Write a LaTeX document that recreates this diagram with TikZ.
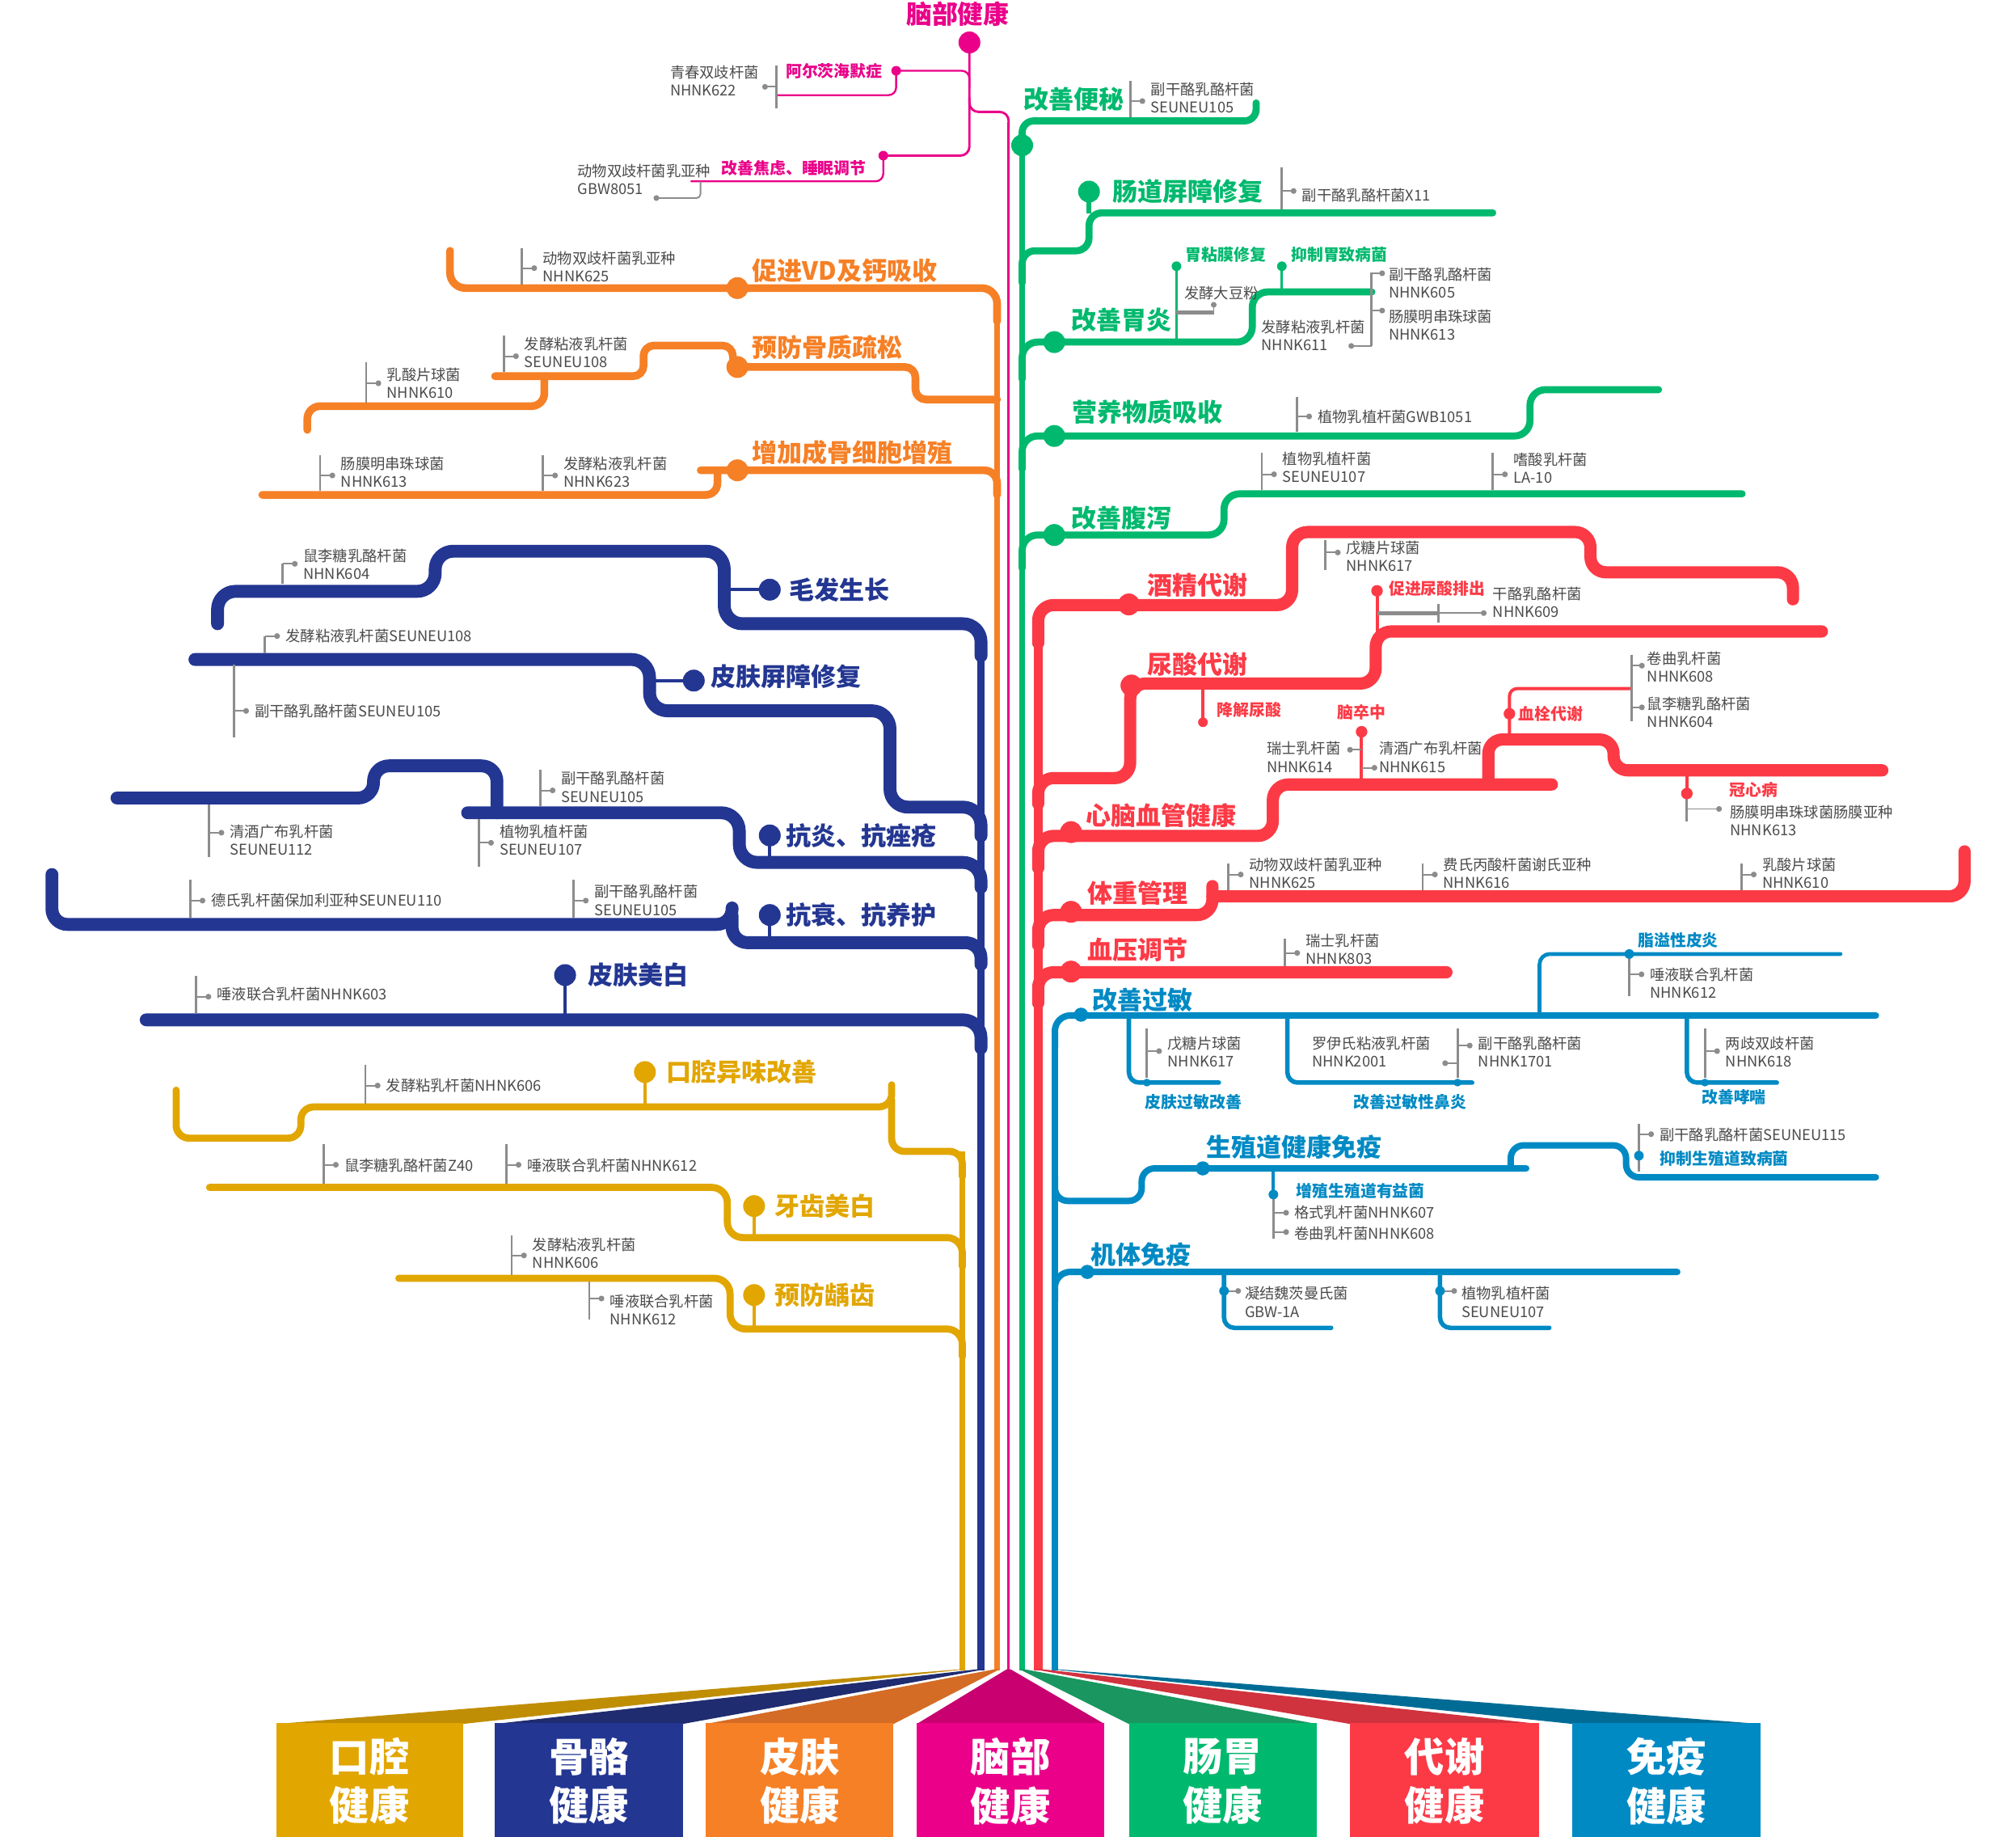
\documentclass[tikz,border=0pt]{standalone}
\usepackage{fontspec}
\newfontfamily\cjk{Noto Sans CJK SC}
\definecolor{cpink}{RGB}{234,0,137}
\definecolor{cgreen}{RGB}{0,185,110}
\definecolor{corange}{RGB}{246,128,38}
\definecolor{cnavy}{RGB}{35,54,146}
\definecolor{cyellow}{RGB}{226,166,0}
\definecolor{cred}{RGB}{252,58,70}
\definecolor{cblue}{RGB}{0,138,196}
\definecolor{cgray}{RGB}{140,140,140}
\definecolor{ctext}{RGB}{75,75,75}
\definecolor{dyellow}{RGB}{192,142,4}
\definecolor{dnavy}{RGB}{32,44,112}
\definecolor{dorange}{RGB}{212,108,38}
\definecolor{dpink}{RGB}{200,0,112}
\definecolor{dgreen}{RGB}{26,150,96}
\definecolor{dred}{RGB}{208,50,62}
\definecolor{dblue}{RGB}{0,108,150}
\tikzset{
  rail/.style={draw=#1, line cap=round, line join=round, rounded corners=10pt},
  trunk/.style={draw=#1, line cap=butt},
  bigdot/.style={circle, fill=#1, minimum size=17pt, inner sep=0pt},
  middot/.style={circle, fill=#1, minimum size=11pt, inner sep=0pt},
  smalldot/.style={circle, fill=#1, minimum size=7.5pt, inner sep=0pt},
  gdot/.style={circle, fill=cgray, minimum size=4.5pt, inner sep=0pt},
  gbar/.style={draw=cgray, line width=1.8pt},
  gline/.style={draw=cgray, line width=1.2pt},
  glabel/.style={font=\cjk\fontsize{11.5}{14}\selectfont, text=ctext, anchor=west, inner sep=0pt, align=left},
  ttl/.style={font=\cjk\bfseries\fontsize{19.5}{23}\selectfont, text=#1, anchor=west, inner sep=0pt},
  sublab/.style={font=\cjk\bfseries\fontsize{12.5}{15}\selectfont, text=#1, anchor=west, inner sep=0pt},
  boxlab/.style={font=\cjk\bfseries\fontsize{31}{38}\selectfont, text=white, align=center, inner sep=0pt},
}
% name, xbar, ytop, ybot, ydot, ytext, text
\newcommand{\gtag}[7]{%
  \draw[gbar] (#2,#3) -- (#2,#4);
  \node[gdot] (#1d) at ({#2+9.5},#5) {};
  \draw[gline] (#2,#5) -- (#1d.center);
  \node[glabel] (#1) at ({#2+16},#6) {#7};
}
\begin{document}
\begin{tikzpicture}[x=1pt,y=-1pt]
\useasboundingbox (0,0) rectangle (1568,1428);
\fill[white] (0,0) rectangle (1568,1428);

% ================= trunks =================
\draw[trunk=cyellow, line width=4.5pt] (748.5,1299) -- (748.5,895);
\draw[trunk=cnavy, line width=6pt] (763,1299) -- (763,500);
\draw[trunk=corange, line width=4.5pt] (775.5,1299) -- (775.5,240);
\draw[trunk=cpink, line width=1.8pt] (784.5,1299) -- (784.5,95);
\draw[trunk=cgreen, line width=4.5pt] (795,1299) -- (795,113);
\draw[trunk=cred, line width=7pt] (807.5,1299) -- (807.5,490);
\draw[trunk=cblue, line width=4.5pt] (820.5,1299) -- (820.5,800);

% ================= pink (brain) =================
\node[ttl=cpink, anchor=center, font=\cjk\bfseries\fontsize{20}{24}\selectfont] (tbrain) at (745,11) {脑部健康};
\draw[rail=cpink, line width=1.8pt, rounded corners=7pt] (754,33) -- (754,121) -- (687,121);
\draw[rail=cpink, line width=1.8pt, rounded corners=7pt] (754,76) -- (754,87) -- (784.5,87) -- (784.5,100);
\node[bigdot=cpink] (dbrain) at (754,33) {};
\node[smalldot=cpink] (dalz) at (697,55) {};
\draw[rail=cpink, line width=1.5pt, rounded corners=6pt] (697,55) -- (754,55) -- (754,68);
\draw[rail=cpink, line width=1.5pt, rounded corners=6pt] (697,55) -- (697,74) -- (604,74);
\node[sublab=cpink] (lalz) at (611,55.5) {阿尔茨海默症};
\draw[gbar] (604,51) -- (604,84);
\node[gdot] (galzd) at (595,67.5) {};
\draw[gline] (604,67.5) -- (galzd.center);
\node[glabel] (galz) at (521,62.7) {青春双歧杆菌\\NHNK622};
\node[smalldot=cpink] (danx) at (687,121) {};
\draw[rail=cpink, line width=1.5pt, rounded corners=6pt] (687,121) -- (687,141) -- (537.6,141);
\node[sublab=cpink] (lanx) at (561,131) {改善焦虑、睡眠调节};
\draw[gline, rounded corners=3pt] (544.8,141) -- (544.8,154) -- (511,154);
\node[gdot] (ganxd) at (510.5,154) {};
\node[glabel] (ganx) at (449,139.5) {动物双歧杆菌乳亚种\\GBW8051};

% ================= green (gut) =================
\draw[rail=cgreen, line width=5.5pt, rounded corners=9pt] (795,113) -- (795,94) -- (977,94) -- (977,80);
\node[bigdot=cgreen] (dconst) at (795,113) {};
\node[ttl=cgreen] (tconst) at (796,77) {改善便秘};
\gtag{gconst}{879}{63}{91}{78.6}{76}{副干酪乳酪杆菌\\SEUNEU105}

\draw[rail=cgreen, line width=5.5pt] (795,220) -- (795,195) -- (847,195) -- (847,165.5) -- (1161,165.5);
\node[bigdot=cgreen] (dbarr) at (847,149) {};
\draw[cgreen, line width=3.5pt] (dbarr.center) -- (847,166);
\node[ttl=cgreen] (tbarr) at (865,149) {肠道屏障修复};
\gtag{gbarr}{996.6}{130}{163}{148.5}{152}{副干酪乳酪杆菌X11}

\draw[rail=cgreen, line width=5.5pt, rounded corners=12pt] (795,295) -- (795,266) -- (974,266) -- (974,227) -- (1067,227);
\node[bigdot=cgreen] (dgast) at (820,266) {};
\node[ttl=cgreen] (tgast) at (833,249) {改善胃炎};
\draw[cgreen, line width=2pt] (915,207) -- (915,266);
\node[smalldot=cgreen] (dmuc) at (915,207) {};
\node[sublab=cgreen] (lmuc) at (922,198) {胃粘膜修复};
\draw[cgreen, line width=2pt] (997,207) -- (997,227);
\node[smalldot=cgreen] (dpath) at (997,207) {};
\node[sublab=cgreen] (lpath) at (1004,198) {抑制胃致病菌};
\node[glabel] (gsoy) at (921,228) {发酵大豆粉};
\draw[gline, line width=2.8pt] (915,243) -- (944,243);
\draw[gline] (944,237) -- (944,243);
\node[gdot] (gsoyd) at (944,237) {};
\draw[gbar] (1066.6,211.7) -- (1066.6,269);
\node[gdot] (g605d) at (1075,212.5) {};
\draw[gline] (1066.6,212.5) -- (g605d.center);
\node[glabel] (g605) at (1080,220) {副干酪乳酪杆菌\\NHNK605};
\node[gdot] (g613d) at (1075,241.5) {};
\draw[gline] (1066.6,241.5) -- (g613d.center);
\node[glabel] (g613) at (1080,252.5) {肠膜明串珠球菌\\NHNK613};
\node[gdot] (g611d) at (1051,269) {};
\draw[gline] (1066.6,269) -- (g611d.center);
\node[glabel] (g611) at (981,261) {发酵粘液乳杆菌\\NHNK611};

\draw[rail=cgreen, line width=5.5pt, rounded corners=12pt] (795,365) -- (795,339) -- (1190,339) -- (1190,303) -- (1290,303);
\node[bigdot=cgreen] (dnut) at (820,339) {};
\node[ttl=cgreen] (tnut) at (833.5,320.6) {营养物质吸收};
\gtag{gnut}{1008.7}{309}{336}{323.8}{324.4}{植物乳植杆菌GWB1051}

\draw[rail=cgreen, line width=5.5pt, rounded corners=12pt] (795,442) -- (795,416) -- (952,416) -- (952,384) -- (1355,384);
\node[bigdot=cgreen] (ddia) at (820,416) {};
\node[ttl=cgreen] (tdia) at (833,403) {改善腹泻};
\gtag{gdia1}{981.4}{352}{381}{368.8}{363.5}{植物乳植杆菌\\SEUNEU107}
\gtag{gdia2}{1161}{352}{381}{368.8}{364}{嗜酸乳杆菌\\LA-10}

% ================= red (metabolism) =================
\draw[rail=cred, line width=9.5pt, rounded corners=12pt] (807.5,500) -- (807.5,470.5) -- (1005,470.5) -- (1005,413.7) -- (1237,413.7) -- (1237,445) -- (1394.5,445) -- (1394.5,466);
\node[bigdot=cred] (dalc) at (878,470) {};
\node[ttl=cred] (talc) at (892,454.7) {酒精代谢};
\gtag{galc}{1031}{420}{443}{429.6}{432.3}{戊糖片球菌\\NHNK617}

\draw[rail=cred, line width=9.5pt, rounded corners=12pt] (1417,491) -- (1070,491) -- (1070,531.5) -- (879,531.5) -- (879,605) -- (807.5,605) -- (807.5,625);
\node[bigdot=cred] (duric) at (880,533) {};
\node[ttl=cred] (turic) at (892,516.6) {尿酸代谢};
\draw[cred, line width=2.5pt] (935.6,531) -- (935.6,561.6);
\node[smalldot=cred] (ddeg) at (935.6,561.6) {};
\node[sublab=cred] (ldeg) at (946.5,552) {降解尿酸};
\draw[cred, line width=2.5pt] (1071,459.4) -- (1071,491);
\node[smalldot=cred, minimum size=9pt] (dexc) at (1071,459.4) {};
\node[sublab=cred] (lexc) at (1080,457.8) {促进尿酸排出};
\draw[gline, line width=3pt] (1071,476.7) -- (1119,476.7);
\draw[gbar] (1119,469.4) -- (1119,484);
\node[gdot] (g609d) at (1154,476.7) {};
\draw[gline] (1119,476.7) -- (g609d.center);
\node[glabel] (g609) at (1161,468.4) {干酪乳酪杆菌\\NHNK609};

\draw[rail=cred, line width=9.5pt, rounded corners=12pt] (807.5,675) -- (807.5,650) -- (990,650) -- (990,610) -- (1207,610);
\draw[rail=cred, line width=9.5pt, rounded corners=11pt] (1157.6,610) -- (1157.6,575) -- (1255,575) -- (1255,599) -- (1464,599);
\node[bigdot=cred] (dcv) at (833,647) {};
\node[ttl=cred] (tcv) at (844.7,634) {心脑血管健康};
\draw[cred, line width=2.5pt] (1059,569) -- (1059,610);
\node[smalldot=cred, minimum size=9pt] (dstroke) at (1059,569) {};
\node[sublab=cred] (lstroke) at (1040,554) {脑卒中};
\node[gdot] (g614d) at (1050,583) {};
\draw[gline] (1059,583) -- (g614d.center);
\node[glabel] (g614) at (985,588.8) {瑞士乳杆菌\\NHNK614};
\node[gdot] (g615d) at (1069,597) {};
\draw[gline] (1059,597) -- (g615d.center);
\node[glabel] (g615) at (1072.5,588.8) {清酒广布乳杆菌\\NHNK615};
\draw[rail=cred, line width=2.5pt, rounded corners=6pt] (1174,575) -- (1174,535.4) -- (1268.8,535.4);
\node[smalldot=cred, minimum size=9pt] (dthr) at (1174,555) {};
\node[sublab=cred] (lthr) at (1181,555) {血栓代谢};
\draw[gbar] (1268.8,509) -- (1268.8,560.6);
\node[gdot] (g608rd) at (1277,517.6) {};
\draw[gline] (1268.8,517.6) -- (g608rd.center);
\node[glabel] (g608r) at (1281,518.7) {卷曲乳杆菌\\NHNK608};
\node[gdot] (g604rd) at (1277,550) {};
\draw[gline] (1268.8,550) -- (g604rd.center);
\node[glabel] (g604r) at (1281,553.8) {鼠李糖乳酪杆菌\\NHNK604};
\draw[cred, line width=2.5pt] (1312,599) -- (1312,617);
\draw[gbar] (1312,619) -- (1312,639);
\node[smalldot=cred, minimum size=9pt] (dchd) at (1312,617) {};
\node[sublab=cred] (lchd) at (1345,614) {冠心病};
\node[gdot] (g613rd) at (1337,629) {};
\draw[gline] (1312,629) -- (g613rd.center);
\node[glabel] (g613r) at (1345.5,638.2) {肠膜明串珠球菌肠膜亚种\\NHNK613};

\draw[rail=cred, line width=9.5pt, rounded corners=12pt] (807.5,735) -- (807.5,711.5) -- (943,711.5) -- (943,689);
\draw[rail=cred, line width=9.5pt, rounded corners=12pt] (943,697) -- (1528,697) -- (1528,662);
\node[bigdot=cred] (dwt) at (833,709) {};
\node[ttl=cred] (twt) at (845.6,694.7) {体重管理};
\gtag{gwt1}{955.5}{671.5}{692}{680}{679}{动物双歧杆菌乳亚种\\NHNK625}
\gtag{gwt2}{1106.5}{671.5}{692}{680}{679}{费氏丙酸杆菌谢氏亚种\\NHNK616}
\gtag{gwt3}{1354.5}{671.5}{692}{680}{679}{乳酸片球菌\\NHNK610}

\draw[rail=cred, line width=9.5pt, rounded corners=12pt] (807.5,780) -- (807.5,756) -- (1125,756);
\node[bigdot=cred] (dbp) at (833,755.5) {};
\node[ttl=cred] (tbp) at (845.6,738.7) {血压调节};
\gtag{gbp}{999.4}{730}{751}{741}{738}{瑞士乳杆菌\\NHNK803}

% ================= blue (immune) =================
\draw[rail=cblue, line width=5pt, rounded corners=12pt] (820.5,815) -- (820.5,789.6) -- (1459,789.6);
\node[middot=cblue] (dall) at (840.8,789) {};
\node[ttl=cblue] (tall) at (849.7,777.5) {改善过敏};
\draw[rail=cblue, line width=3pt, rounded corners=8pt] (1197.4,789.6) -- (1197.4,741.8) -- (1431.5,741.8);
\gtag{gseb}{1267.2}{745}{774.4}{757.6}{764.6}{唾液联合乳杆菌\\NHNK612}
\node[smalldot=cblue] (dseb) at (1267.2,741.8) {};
\node[sublab=cblue] (lseb) at (1273.8,731.4) {脂溢性皮炎};

\draw[rail=cblue, line width=3.5pt, rounded corners=8pt] (878,789.6) -- (878,841.8) -- (948,841.8);
\gtag{gskin}{892}{800}{838}{817.3}{818}{戊糖片球菌\\NHNK617}
\node[smalldot=cblue, minimum size=6pt] (dskin) at (892,841.8) {};
\node[sublab=cblue] (lskin) at (890.6,857.1) {皮肤过敏改善};

\draw[rail=cblue, line width=3.5pt, rounded corners=8pt] (1001.3,789.6) -- (1001.3,841.8) -- (1145,841.8);
\gtag{g1701}{1133.6}{800}{838}{813}{818}{副干酪乳酪杆菌\\NHNK1701}
\node[gdot] (g2001d) at (1124,826.7) {};
\draw[gline] (1133.6,826.7) -- (g2001d.center);
\node[glabel] (g2001) at (1020.4,818) {罗伊氏粘液乳杆菌\\NHNK2001};
\node[smalldot=cblue, minimum size=6pt] (drhin) at (1133.6,841.8) {};
\node[sublab=cblue] (lrhin) at (1052.8,857) {改善过敏性鼻炎};

\draw[rail=cblue, line width=3.5pt, rounded corners=8pt] (1312,789.6) -- (1312,841.8) -- (1382,841.8);
\gtag{g618}{1326}{800}{838}{817.3}{818}{两歧双歧杆菌\\NHNK618}
\node[smalldot=cblue, minimum size=6pt] (dasth) at (1326,841.8) {};
\node[sublab=cblue] (lasth) at (1323.4,853) {改善哮喘};

\draw[rail=cblue, line width=5pt, rounded corners=10pt] (820.5,915) -- (820.5,933.8) -- (888,933.8) -- (888,908.5) -- (1187,908.5);
\draw[rail=cblue, line width=5pt, rounded corners=10pt] (1175,908.5) -- (1175,890.6) -- (1264.7,890.6) -- (1264.7,915.4) -- (1459,915.4);
\node[middot=cblue] (dgen) at (935.5,908.5) {};
\node[ttl=cblue] (tgen) at (938,891.7) {生殖道健康免疫};
\draw[cblue, line width=2.5pt] (990.4,908.5) -- (990.4,929);
\draw[gbar] (990.4,930) -- (990.4,963);
\node[gdot] (g607d) at (1000.3,943) {};
\draw[gline] (990.4,943) -- (g607d.center);
\node[glabel] (g607) at (1006.4,943) {格式乳杆菌NHNK607};
\node[gdot] (g608bd) at (1000.3,958) {};
\draw[gline] (990.4,958) -- (g608bd.center);
\node[glabel] (g608b) at (1006.4,958.8) {卷曲乳杆菌NHNK608};
\node[smalldot=cblue] (dben) at (990.4,928.8) {};
\node[sublab=cblue] (lben) at (1008,926.3) {增殖生殖道有益菌};
\gtag{g115}{1274.7}{874}{911}{881.9}{882.3}{副干酪乳酪杆菌SEUNEU115}
\node[smalldot=cblue] (dinh) at (1274.7,898.6) {};
\node[sublab=cblue] (linh) at (1291,901) {抑制生殖道致病菌};

\draw[rail=cblue, line width=5pt, rounded corners=12pt] (820.5,1012) -- (820.5,989) -- (1304.5,989);
\node[middot=cblue] (dimm) at (845.7,989) {};
\node[ttl=cblue] (timm) at (848,975.5) {机体免疫};
\draw[rail=cblue, line width=3.5pt, rounded corners=8pt] (952,989) -- (952,1032.5) -- (1035.3,1032.5);
\draw[rail=cblue, line width=3.5pt, rounded corners=8pt] (1120,989) -- (1120,1032.5) -- (1205,1032.5);
\node[gdot] (ggbwd) at (963,1003.8) {};
\draw[gline] (952,1003.8) -- (ggbwd.center);
\node[smalldot=cblue] (dgbw) at (952,1003.8) {};
\node[glabel] (ggbw) at (968,1012.5) {凝结魏茨曼氏菌\\GBW-1A};
\node[gdot] (gsn107d) at (1131,1003.8) {};
\draw[gline] (1120,1003.8) -- (gsn107d.center);
\node[smalldot=cblue] (dsn107) at (1120,1003.8) {};
\node[glabel] (gsn107) at (1136.6,1012.5) {植物乳植杆菌\\SEUNEU107};

% ================= orange (bone) =================
\draw[rail=corange, line width=6pt, rounded corners=12pt] (775.5,250) -- (775.5,224) -- (350,224) -- (350,195);
\node[bigdot=corange] (dvd) at (573.5,224) {};
\node[ttl=corange] (tvd) at (585,210.6) {促进VD及钙吸收};
\gtag{gvd}{406}{192.8}{221}{208.5}{207.4}{动物双歧杆菌乳亚种\\NHNK625}

\draw[rail=corange, line width=6pt, rounded corners=8pt] (775.5,310.6) -- (712,310.6) -- (712,285.4) -- (570,285.4) -- (570,268.7) -- (500.5,268.7) -- (500.5,292.5) -- (385,292.5);
\draw[rail=corange, line width=6pt, rounded corners=10pt] (423.4,292.5) -- (423.4,315.8) -- (239,315.8) -- (239,334.3);
\node[bigdot=corange] (dost) at (573.5,285.4) {};
\node[ttl=corange] (tost) at (585,270.3) {预防骨质疏松};
\gtag{gost1}{391.8}{261}{289.5}{277}{274}{发酵粘液乳杆菌\\SEUNEU108}
\gtag{gost2}{284.8}{281.7}{313}{298}{298}{乳酸片球菌\\NHNK610}

\draw[rail=corange, line width=6pt, rounded corners=10pt] (775.5,385) -- (775.5,365.7) -- (545,365.7);
\draw[rail=corange, line width=6pt, rounded corners=9pt] (558,365.7) -- (558,384.8) -- (204,384.8);
\node[bigdot=corange] (dosb) at (573.5,365.7) {};
\node[ttl=corange] (tosb) at (585,352) {增加成骨细胞增殖};
\gtag{gosb1}{249}{354}{381.8}{369.7}{367.3}{肠膜明串珠球菌\\NHNK613}
\gtag{gosb2}{422.2}{354}{381.8}{369.7}{367.3}{发酵粘液乳杆菌\\NHNK623}

% ================= navy (skin) =================
\draw[rail=cnavy, line width=10pt, rounded corners=14pt] (763,510) -- (763,485) -- (563.3,485) -- (563.3,428.6) -- (338.5,428.6) -- (338.5,459.8) -- (169.2,459.8) -- (169.2,485);
\draw[cnavy, line width=2.5pt] (598.7,458.5) -- (563,458.5);
\node[bigdot=cnavy] (dhair) at (598.7,458.5) {};
\node[ttl=cnavy] (thair) at (613.8,458.5) {毛发生长};
\gtag{ghair}{219.8}{438}{454}{438.4}{438.7}{鼠李糖乳酪杆菌\\NHNK604}

\draw[rail=cnavy, line width=10pt, rounded corners=14pt] (151.6,512.8) -- (505.2,512.8) -- (505.2,552.7) -- (692.2,552.7) -- (692.2,627.6) -- (763,627.6) -- (763,650);
\draw[cnavy, line width=2.5pt] (539.6,529.2) -- (505,529.2);
\node[bigdot=cnavy] (dsb) at (539.6,529.2) {};
\node[ttl=cnavy] (tsb) at (553,526) {皮肤屏障修复};
\gtag{gsb1}{206}{494.6}{508}{494.6}{494.2}{发酵粘液乳杆菌SEUNEU108}
\gtag{gsb2}{181.9}{517}{573.2}{552.8}{552.8}{副干酪乳酪杆菌SEUNEU105}

\draw[rail=cnavy, line width=10pt, rounded corners=12pt] (91,620.5) -- (290.5,620.5) -- (290.5,595.5) -- (386.5,595.5) -- (386.5,632);
\draw[rail=cnavy, line width=10pt, rounded corners=14pt] (363.7,632) -- (575,632) -- (575,670.6) -- (763,670.6) -- (763,690);
\draw[cnavy, line width=2.5pt] (598.7,649.6) -- (598.7,668);
\node[bigdot=cnavy] (dacne) at (598.7,649.6) {};
\node[ttl=cnavy] (tacne) at (611.3,649.6) {抗炎、抗痤疮};
\gtag{gacne1}{420.3}{598.3}{627}{614.6}{612}{副干酪乳酪杆菌\\SEUNEU105}
\gtag{gacne2}{162.7}{625.5}{666.4}{647.5}{653.2}{清酒广布乳杆菌\\SEUNEU112}
\gtag{gacne3}{372.4}{637}{673.7}{655.3}{653.2}{植物乳植杆菌\\SEUNEU107}

\draw[rail=cnavy, line width=10pt, rounded corners=12pt] (40.4,680) -- (40.4,718.8) -- (569.4,718.8) -- (569.4,706);
\draw[rail=cnavy, line width=10pt, rounded corners=12pt] (569.4,712) -- (569.4,733) -- (763,733) -- (763,750);
\draw[cnavy, line width=2.5pt] (598.7,711.5) -- (598.7,730);
\node[bigdot=cnavy] (daging) at (598.7,711.5) {};
\node[ttl=cnavy] (taging) at (611.3,711.5) {抗衰、抗养护};
\gtag{gaging1}{148}{684}{713.5}{700.3}{700.3}{德氏乳杆菌保加利亚种SEUNEU110}
\gtag{gaging2}{446.1}{684}{713.5}{700.3}{700}{副干酪乳酪杆菌\\SEUNEU105}

\draw[rail=cnavy, line width=10pt, rounded corners=14pt] (113.7,793) -- (763,793) -- (763,815);
\draw[cnavy, line width=2.5pt] (439.5,758.2) -- (439.5,792);
\node[bigdot=cnavy] (dwhite) at (439.5,758.2) {};
\node[ttl=cnavy] (twhite) at (457.2,758.2) {皮肤美白};
\gtag{gwhite}{152.6}{758.6}{788}{775}{773.3}{唾液联合乳杆菌NHNK603}

% ================= yellow (oral) =================
\draw[rail=cyellow, line width=5.5pt, rounded corners=10pt] (137,847.7) -- (137,885) -- (234,885) -- (234,860.7) -- (693.5,860.7) -- (693.5,843.5);
\draw[rail=cyellow, line width=5.5pt, rounded corners=10pt] (693.5,855) -- (693.5,895.3) -- (748.5,895.3) -- (748.5,915);
\draw[cyellow, line width=2.5pt] (501.6,833.6) -- (501.6,860);
\node[bigdot=cyellow] (dodor) at (501.6,833.6) {};
\node[ttl=cyellow] (todor) at (518,833.6) {口腔异味改善};
\gtag{godor}{284.2}{827.8}{858}{844.1}{844.1}{发酵粘乳杆菌NHNK606}

\draw[rail=cyellow, line width=5.5pt, rounded corners=12pt] (163,923.3) -- (565.7,923.3) -- (565.7,962.3) -- (748.5,962.3) -- (748.5,985);
\draw[cyellow, line width=2.5pt] (586.5,937.8) -- (586.5,962);
\node[bigdot=cyellow] (dteeth) at (586.5,937.8) {};
\node[ttl=cyellow] (tteeth) at (602.5,937.8) {牙齿美白};
\gtag{gteeth1}{251.7}{889.6}{920.5}{905.7}{906.3}{鼠李糖乳酪杆菌Z40}
\gtag{gteeth2}{393.8}{889.6}{920.5}{905.7}{906.3}{唾液联合乳杆菌NHNK612}

\draw[rail=cyellow, line width=5.5pt, rounded corners=12pt] (310.2,994) -- (567.8,994) -- (567.8,1033.4) -- (748.5,1033.4) -- (748.5,1055);
\draw[cyellow, line width=2.5pt] (586.5,1007) -- (586.5,1033);
\node[bigdot=cyellow] (dcar) at (586.5,1007) {};
\node[ttl=cyellow] (tcar) at (602.5,1007) {预防龋齿};
\gtag{gcar1}{398}{960.9}{991.2}{976.2}{974.2}{发酵粘液乳杆菌\\NHNK606}
\gtag{gcar2}{458.3}{996.5}{1025.8}{1009.7}{1018.5}{唾液联合乳杆菌\\NHNK612}

% ================= bottom fan =================
\fill[dyellow] (215,1340.5) -- (360,1340.5) -- (750.5,1298) -- (746.5,1298) -- cycle;
\fill[dnavy] (385,1340.5) -- (531,1340.5) -- (766,1298) -- (760,1298) -- cycle;
\fill[dorange] (549,1340.5) -- (695,1340.5) -- (777.5,1298) -- (773.5,1298) -- cycle;
\fill[dpink] (713,1340.5) -- (859,1340.5) -- (786,1298) -- (783,1298) -- cycle;
\fill[dgreen] (878,1340.5) -- (1024,1340.5) -- (797,1298) -- (793,1298) -- cycle;
\fill[dred] (1050,1340.5) -- (1197,1340.5) -- (811,1298) -- (804,1298) -- cycle;
\fill[dblue] (1223,1340.5) -- (1369,1340.5) -- (822.5,1298) -- (818.5,1298) -- cycle;

\fill[cyellow] (215,1340) rectangle (360,1430);
\fill[cnavy] (385,1340) rectangle (531,1430);
\fill[corange] (549,1340) rectangle (695,1430);
\fill[cpink] (713,1340) rectangle (859,1430);
\fill[cgreen] (878,1340) rectangle (1024,1430);
\fill[cred] (1050,1340) rectangle (1197,1430);
\fill[cblue] (1223,1340) rectangle (1369,1430);
\node[boxlab] (boral) at (287.5,1385) {口腔\\健康};
\node[boxlab] (bbone) at (458,1385) {骨骼\\健康};
\node[boxlab] (bskin) at (622,1385) {皮肤\\健康};
\node[boxlab] (bbrain) at (786,1385) {脑部\\健康};
\node[boxlab] (bgut) at (951,1385) {肠胃\\健康};
\node[boxlab] (bmeta) at (1123.5,1385) {代谢\\健康};
\node[boxlab] (bimm) at (1296,1385) {免疫\\健康};
\end{tikzpicture}
\end{document}
